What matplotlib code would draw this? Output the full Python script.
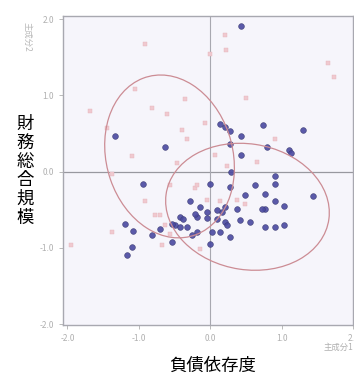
import matplotlib.pyplot as plt
from matplotlib.patches import Ellipse

plt.rcParams['font.family'] = ['Noto Sans CJK JP', 'DejaVu Sans']

# group 1 (blue dots)
blue_x = [0.43, -1.33, -0.63, -0.94, 0.74, 1.30, 0.43, 0.14, 0.21, 0.28, 0.28, 0.43,
          0.80, 1.10, 1.13, 0.29, 0.00, 0.27, 0.62, 0.91, 0.90, 1.43, 0.48, 0.77,
          0.91, 1.03, 0.77, 0.17, -0.28, -0.14, -0.04, 0.10, 0.21, 0.38, -0.42, -0.18,
          -0.04, 0.10, 0.21, 0.41, 0.56, 0.76, 0.90, 1.03, -0.50, -0.32, -0.18, 0.03,
          0.14, 0.27, -0.01, -0.53, -1.19, -1.08, -0.81, -0.70, -0.53, -1.09, -1.17, -0.25,
          -0.43, 0.24, -0.38, -0.22, 0.73]
blue_y = [1.91, 0.47, 0.33, -0.16, 0.61, 0.54, 0.47, 0.63, 0.58, 0.53, 0.36, 0.22,
          0.32, 0.29, 0.24, -0.01, -0.16, -0.20, -0.17, -0.05, -0.16, -0.32, -0.30, -0.29,
          -0.39, -0.45, -0.49, -0.53, -0.39, -0.46, -0.53, -0.50, -0.46, -0.49, -0.59, -0.59,
          -0.61, -0.62, -0.66, -0.63, -0.66, -0.72, -0.72, -0.70, -0.70, -0.72, -0.79, -0.79,
          -0.79, -0.86, -0.95, -0.92, -0.68, -0.78, -0.83, -0.75, -0.68, -0.99, -1.09, -0.83,
          -0.72, -0.70, -0.62, -0.55, -0.49]

# group 2 (pink squares)
pink_x = [-0.92, -1.68, -1.44, -1.09, -0.81, -0.60, 0.20, 0.22, 0.00, 1.64, 1.73, 0.50,
          -0.36, -0.39, -0.32, -0.07, -1.05, 0.07, -1.37, -0.92, -0.67, -0.78, -1.95, 0.90,
          -1.37, -0.56, -0.70, -0.64, -0.56, -0.22, 0.38, 0.49, -0.04, -0.18, 0.14, -0.14,
          -0.46, 0.24, 0.66]
pink_y = [1.68, 0.79, 0.57, 0.20, 0.83, 0.75, 1.79, 1.59, 1.54, 1.42, 1.24, 0.97,
          0.95, 0.55, 0.43, 0.64, 1.08, 0.22, -0.79, -0.39, -0.96, -0.57, -0.96, 0.43,
          -0.03, -0.17, -0.57, -0.70, -0.82, -0.22, -0.37, -0.43, -0.37, -0.17, -0.39, -1.01,
          0.11, 0.07, 0.13]

ticks = [-2.0, -1.0, 0.0, 1.0, 2.0]
tick_labels = ['-2.0', '-1.0', '0.0', '1.0', '2.0']

fig = plt.figure(figsize=(3.54, 3.74), dpi=100)
ax = fig.add_axes([0.178, 0.131, 0.82, 0.826])
ax.set_facecolor('#f6f5fb')

ax.axhline(0, color='#98989f', lw=0.9, zorder=1)
ax.axvline(0, color='#a8a8b0', lw=0.8, zorder=1)

ax.scatter(pink_x, pink_y, marker='s', s=10, color='#f0c9cf', edgecolors='#e4b4bc',
           linewidths=0.3, zorder=2)
ax.scatter(blue_x, blue_y, s=17, color='#4a49a0', edgecolors='#36366e',
           linewidths=0.4, alpha=0.9, zorder=3)

ax.add_patch(Ellipse((-0.57, 0.20), 2.18, 1.76, angle=-70, fill=False,
                     edgecolor='#cc8c94', lw=0.9, zorder=4))
ax.add_patch(Ellipse((0.52, -0.46), 2.3, 1.65, angle=-8, fill=False,
                     edgecolor='#cc8c94', lw=0.9, zorder=4))

ax.set_xlim(-2.06, 2.0)
ax.set_ylim(-2.01, 2.04)
ax.set_xticks(ticks)
ax.set_xticklabels(tick_labels)
ax.set_yticks(ticks)
ax.set_yticklabels(tick_labels)
ax.tick_params(labelsize=6, colors='#b0b0b0', length=3, width=0.6)
for s in ax.spines.values():
    s.set_color('#a8a8b0')
    s.set_linewidth(1.0)

fig.text(0.076, 0.94, '主成分2', rotation=-90, fontsize=6, color='#b8b8b8',
         ha='center', va='top')
fig.text(0.998, 0.072, '主成分1', fontsize=6, color='#b0b0b0', ha='right', va='center')

fig.text(0.07, 0.543, '財\n務\n総\n合\n規\n模', fontsize=12.5, ha='center', va='center',
         linespacing=1.05)
fig.text(0.6, 0.022, '負債依存度', fontsize=12.5, ha='center', va='center')

fig.savefig('out.png', dpi=100)
